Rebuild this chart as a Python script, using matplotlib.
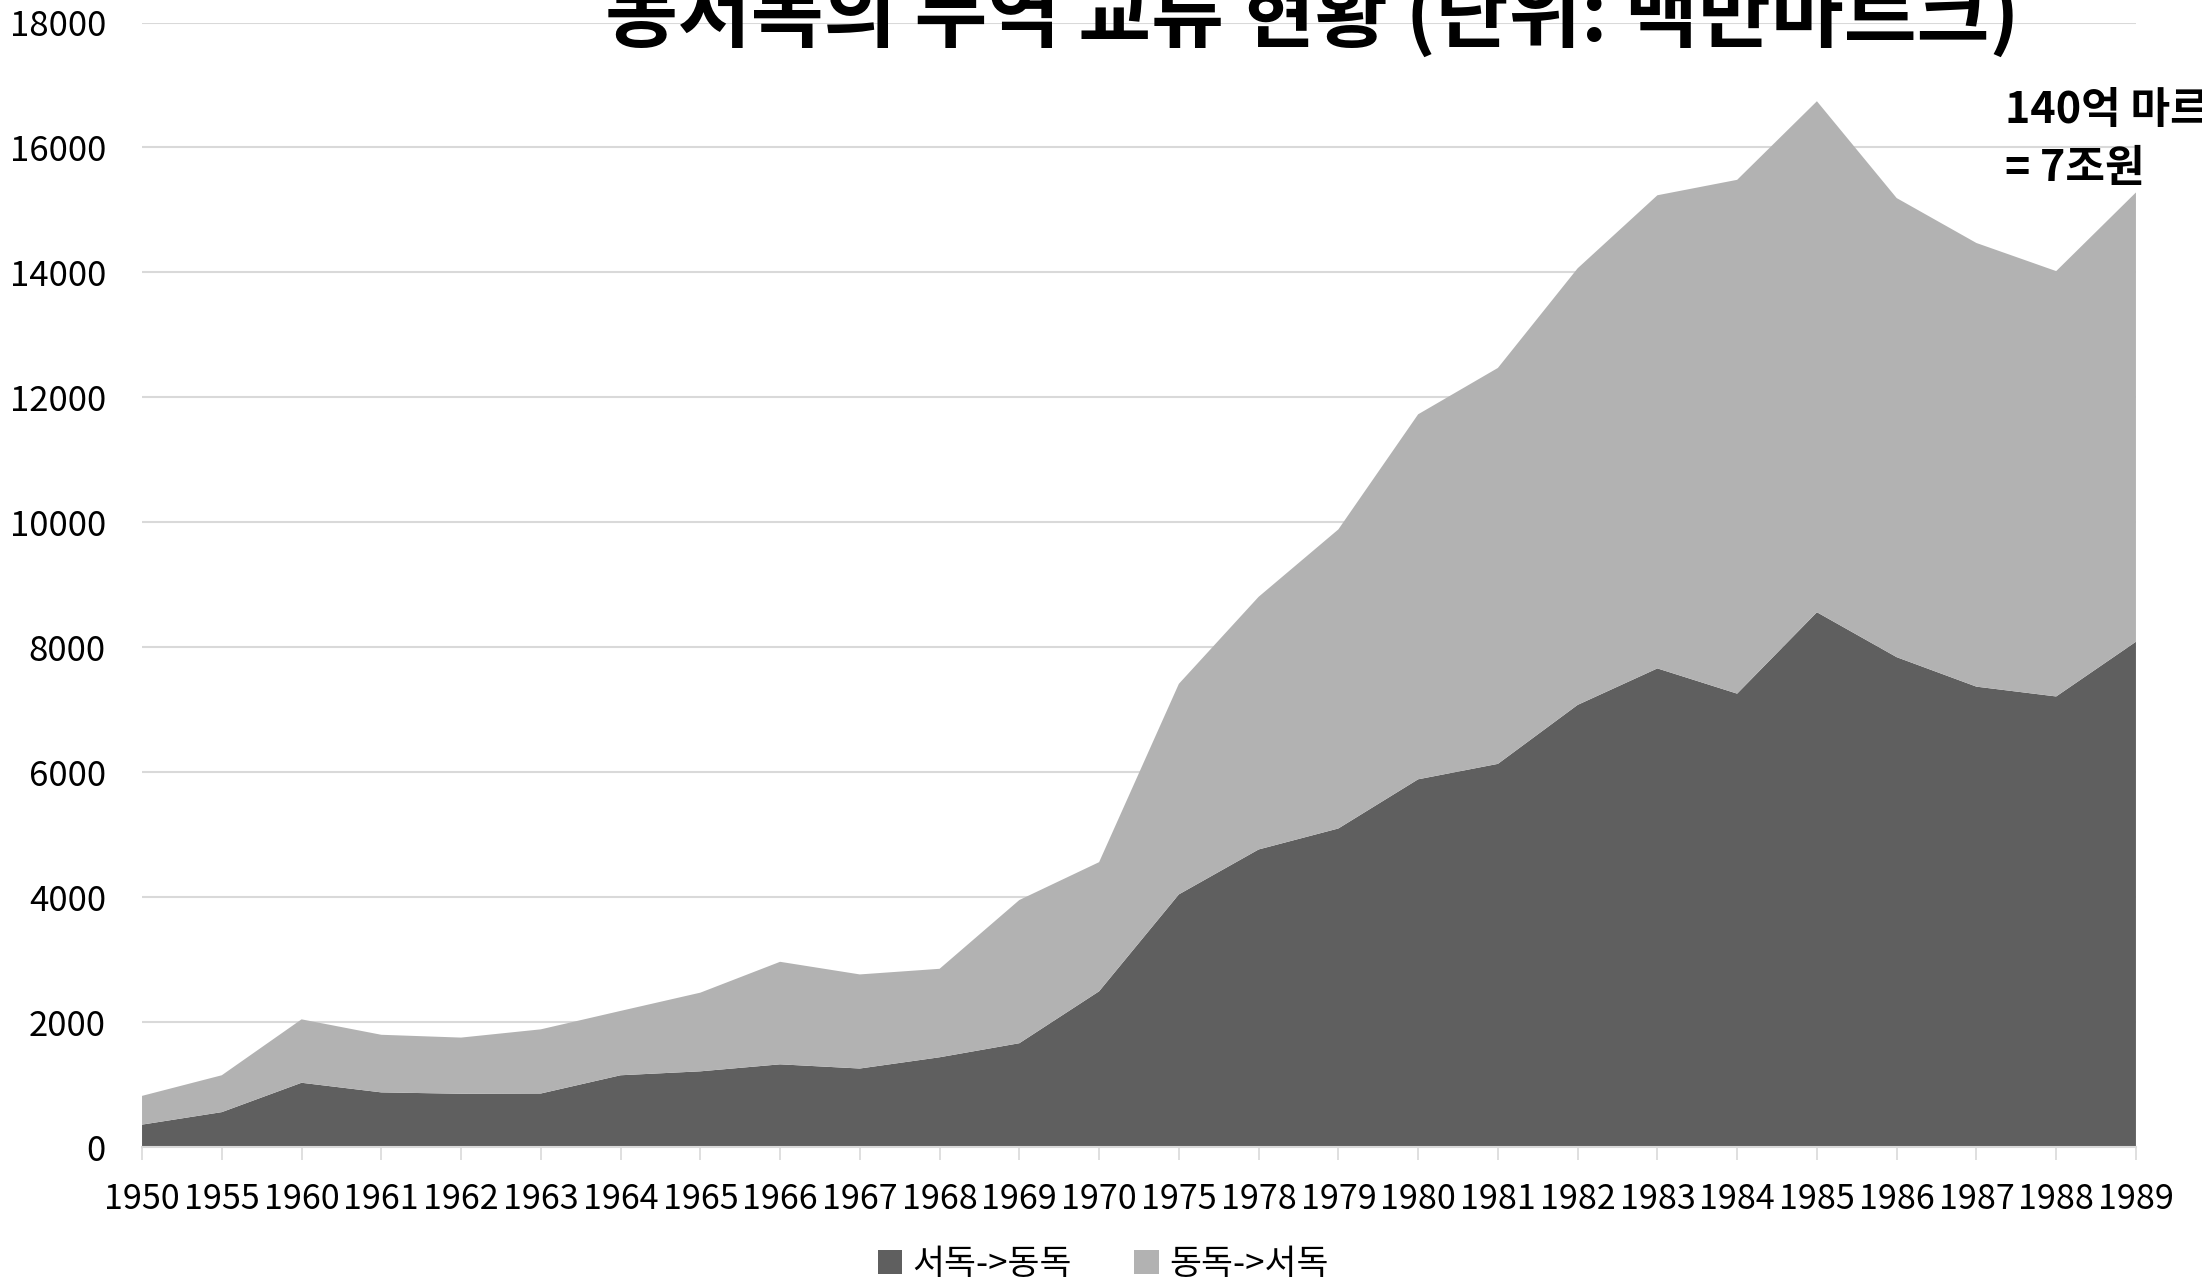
import numpy as np
import matplotlib
matplotlib.use('Agg')
import matplotlib.pyplot as plt
from matplotlib.patches import Patch

plt.rcParams['font.family'] = ['Noto Sans CJK KR', 'DejaVu Sans']

years = ['1950', '1955', '1960', '1961', '1962', '1963', '1964', '1965', '1966',
         '1967', '1968', '1969', '1970', '1975', '1978', '1979', '1980', '1981',
         '1982', '1983', '1984', '1985', '1986', '1987', '1988', '1989']
# 서독 -> 동독 (백만 마르크)
west_to_east = [360, 560, 1030, 876, 854, 858, 1150, 1213, 1325, 1258, 1438, 1663,
                2494, 4045, 4764, 5100, 5887, 6134, 7078, 7662, 7258, 8561, 7842,
                7370, 7213, 8089]
# 동독 -> 서독
east_to_west = [460, 590, 1015, 922, 899, 1027, 1030, 1259, 1641, 1506, 1416, 2292,
                2067, 3370, 4044, 4787, 5842, 6337, 6988, 7573, 8224, 8179, 7348,
                7101, 6808, 7191]
series_names = ['서독->동독', '동독->서독']
colors = ['#5f5f5f', '#b2b2b2']

fig = plt.figure(figsize=(22.02, 12.86), dpi=100)
ax = fig.add_axes([0.0645, 0.108, 0.9055, 0.8745])

x = np.arange(len(years))
ax.stackplot(x, west_to_east, east_to_west, colors=colors, linewidth=0)

ax.set_xlim(0, len(years) - 1)
ax.set_ylim(0, 18000)
ax.set_yticks(range(0, 18001, 2000))
ax.set_xticks(x)
ax.set_xticklabels(years, fontsize=24.5)
ax.tick_params(axis='y', length=0, labelsize=25, pad=26)
ax.tick_params(axis='x', length=9, width=1.2, color='#d9d9d9', pad=16)
ax.grid(axis='y', color='#d9d9d9', linewidth=1.5)
ax.set_axisbelow(True)
for s in ['top', 'right', 'left']:
    ax.spines[s].set_visible(False)
ax.spines['bottom'].set_color('#d9d9d9')
ax.spines['bottom'].set_linewidth(1.5)

fig.text(0.596, 0.968, '동서독의 무역 교류 현황 (단위: 백만마르크)',
         fontsize=57, fontweight='bold', ha='center', va='baseline')
fig.text(0.9105, 0.892, '140억 마르크\n= 7조원', fontsize=31, fontweight='bold',
         ha='left', va='center', linespacing=1.4)

handles = [Patch(facecolor=c, edgecolor='none') for c in colors]
fig.legend(handles, series_names, loc='center', bbox_to_anchor=(0.501, 0.0164),
           ncol=2, frameon=False, fontsize=25, handlelength=0.7, handleheight=0.7,
           handletextpad=0.3, columnspacing=1.8)

fig.savefig('out.png', dpi=100)
